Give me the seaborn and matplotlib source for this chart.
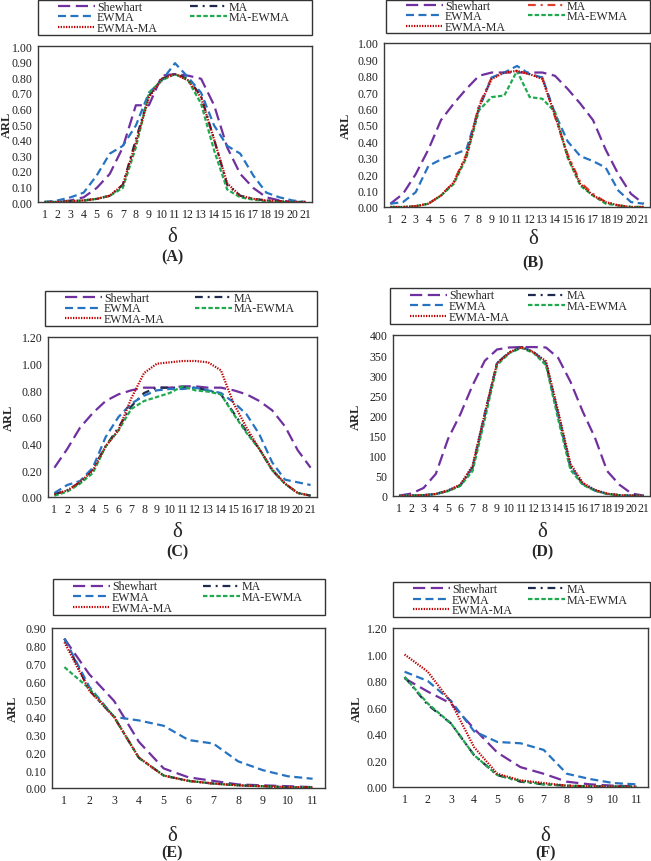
import numpy as np
import pandas as pd
import matplotlib
matplotlib.use("Agg")
import matplotlib.pyplot as plt
from matplotlib.patches import Rectangle
import seaborn as sns

sns.set_theme(style="white")
plt.rcParams["font.family"] = ["Liberation Serif", "DejaVu Serif"]

series_names = ["Shewhart", "MA", "EWMA", "MA-EWMA", "EWMA-MA"]
delta21 = list(range(1, 22))
delta11 = list(range(1, 12))

# ---- Panel A ----
A_shewhart = [0, 0, 0.01, 0.03, 0.09, 0.18, 0.35, 0.62, 0.62, 0.81, 0.82, 0.81, 0.79, 0.62, 0.35, 0.18, 0.09, 0.03, 0.01, 0, 0]
A_ma       = [0, 0, 0.005, 0.01, 0.02, 0.04, 0.11, 0.40, 0.68, 0.79, 0.82, 0.79, 0.68, 0.40, 0.11, 0.04, 0.02, 0.01, 0.005, 0, 0]
A_ewma     = [0, 0.01, 0.03, 0.06, 0.17, 0.31, 0.36, 0.49, 0.70, 0.78, 0.89, 0.80, 0.70, 0.49, 0.36, 0.31, 0.17, 0.06, 0.03, 0.01, 0]
A_maewma   = [0, 0, 0.005, 0.01, 0.02, 0.04, 0.09, 0.35, 0.70, 0.78, 0.82, 0.78, 0.63, 0.33, 0.08, 0.03, 0.015, 0.005, 0, 0, 0]
A_ewmama   = [0, 0, 0.005, 0.01, 0.02, 0.04, 0.11, 0.38, 0.67, 0.79, 0.82, 0.78, 0.67, 0.40, 0.12, 0.04, 0.02, 0.01, 0.005, 0, 0]

# ---- Panel B ----
B_shewhart = [0.02, 0.08, 0.20, 0.35, 0.53, 0.63, 0.72, 0.80, 0.82, 0.82, 0.82, 0.82, 0.82, 0.80, 0.72, 0.63, 0.53, 0.35, 0.20, 0.08, 0.02]
B_ma       = [0, 0, 0.005, 0.02, 0.07, 0.15, 0.32, 0.62, 0.79, 0.82, 0.83, 0.81, 0.79, 0.55, 0.32, 0.15, 0.08, 0.03, 0.01, 0, 0]
B_ewma     = [0.02, 0.03, 0.09, 0.25, 0.29, 0.32, 0.35, 0.60, 0.79, 0.82, 0.86, 0.81, 0.79, 0.57, 0.40, 0.31, 0.28, 0.24, 0.10, 0.03, 0.02]
B_maewma   = [0, 0, 0.005, 0.02, 0.07, 0.14, 0.30, 0.59, 0.67, 0.68, 0.83, 0.67, 0.66, 0.58, 0.30, 0.13, 0.07, 0.02, 0.01, 0, 0]
B_ewmama   = [0, 0, 0.005, 0.02, 0.07, 0.15, 0.31, 0.61, 0.78, 0.82, 0.83, 0.81, 0.78, 0.56, 0.31, 0.14, 0.07, 0.03, 0.01, 0, 0]

# ---- Panel C ----
C_shewhart = [0.22, 0.36, 0.52, 0.63, 0.72, 0.77, 0.80, 0.82, 0.82, 0.82, 0.83, 0.83, 0.82, 0.82, 0.80, 0.77, 0.72, 0.65, 0.53, 0.35, 0.22]
C_ma       = [0.02, 0.05, 0.11, 0.21, 0.38, 0.52, 0.68, 0.78, 0.82, 0.82, 0.82, 0.82, 0.80, 0.77, 0.63, 0.49, 0.36, 0.20, 0.10, 0.03, 0.01]
C_ewma     = [0.03, 0.09, 0.12, 0.22, 0.45, 0.60, 0.70, 0.76, 0.80, 0.81, 0.81, 0.82, 0.80, 0.78, 0.71, 0.62, 0.47, 0.26, 0.13, 0.11, 0.09]
C_maewma   = [0.01, 0.04, 0.10, 0.18, 0.38, 0.50, 0.66, 0.72, 0.75, 0.78, 0.83, 0.80, 0.79, 0.77, 0.62, 0.48, 0.36, 0.20, 0.10, 0.03, 0.01]
C_ewmama   = [0.02, 0.05, 0.11, 0.20, 0.38, 0.50, 0.74, 0.93, 1.00, 1.01, 1.02, 1.02, 1.01, 0.95, 0.70, 0.52, 0.36, 0.21, 0.10, 0.03, 0.01]

# ---- Panel D ----
D_shewhart = [1, 6, 20, 55, 142, 203, 275, 336, 364, 369, 370, 370, 369, 343, 284, 210, 145, 62, 28, 6, 1]
D_ma       = [0, 1, 2, 5, 13, 26, 70, 200, 330, 357, 370, 357, 330, 200, 72, 30, 14, 5, 2, 1, 0]
D_ewma     = [0, 1, 2, 5, 13, 27, 72, 205, 330, 355, 370, 358, 330, 205, 75, 30, 14, 5, 2, 1, 0]
D_maewma   = [0, 1, 2, 5, 12, 25, 62, 190, 325, 355, 368, 355, 325, 190, 65, 28, 13, 5, 2, 1, 0]
D_ewmama   = [0, 1, 2, 5, 14, 28, 75, 205, 330, 357, 370, 357, 335, 210, 80, 33, 15, 6, 2, 1, 0]

# ---- Panel E ----
E_shewhart = [0.84, 0.64, 0.49, 0.26, 0.11, 0.06, 0.04, 0.02, 0.015, 0.01, 0.005]
E_ma       = [0.84, 0.55, 0.40, 0.17, 0.07, 0.04, 0.025, 0.015, 0.01, 0.005, 0.003]
E_ewma     = [0.84, 0.57, 0.40, 0.38, 0.35, 0.27, 0.25, 0.15, 0.10, 0.066, 0.052]
E_maewma   = [0.68, 0.56, 0.40, 0.17, 0.07, 0.04, 0.025, 0.015, 0.01, 0.005, 0.003]
E_ewmama   = [0.82, 0.55, 0.40, 0.17, 0.07, 0.04, 0.025, 0.015, 0.01, 0.005, 0.003]

# ---- Panel F ----
F_shewhart = [0.82, 0.72, 0.63, 0.44, 0.26, 0.15, 0.10, 0.04, 0.02, 0.01, 0.005]
F_ma       = [0.83, 0.62, 0.48, 0.24, 0.09, 0.04, 0.02, 0.01, 0.005, 0.003, 0.002]
F_ewma     = [0.87, 0.80, 0.65, 0.42, 0.34, 0.33, 0.28, 0.10, 0.06, 0.03, 0.02]
F_maewma   = [0.83, 0.63, 0.48, 0.24, 0.09, 0.045, 0.02, 0.01, 0.005, 0.003, 0.002]
F_ewmama   = [1.00, 0.87, 0.64, 0.30, 0.10, 0.05, 0.03, 0.01, 0.005, 0.003, 0.002]

panel_labels = ["(A)", "(B)", "(C)", "(D)", "(E)", "(F)"]

panels = [
    (delta21, [A_shewhart, A_ma, A_ewma, A_maewma, A_ewmama]),
    (delta21, [B_shewhart, B_ma, B_ewma, B_maewma, B_ewmama]),
    (delta21, [C_shewhart, C_ma, C_ewma, C_maewma, C_ewmama]),
    (delta21, [D_shewhart, D_ma, D_ewma, D_maewma, D_ewmama]),
    (delta11, [E_shewhart, E_ma, E_ewma, E_maewma, E_ewmama]),
    (delta11, [F_shewhart, F_ma, F_ewma, F_maewma, F_ewmama]),
]

# styling
colors = {"Shewhart": "#7030A0", "MA": "#1F2A4F", "EWMA": "#2673C2",
          "MA-EWMA": "#1FAA4F", "EWMA-MA": "#C00000"}
ma_color_B = "#E0402D"
styles = {"Shewhart": (0, (5.5, 2.5)), "MA": (0, (3.5, 2.2, 0.9, 2.2)),
          "EWMA": (0, (3.6, 2.0)), "MA-EWMA": (0, (2.0, 1.0)),
          "EWMA-MA": (0, (0.6, 0.6))}

W, H = 651, 862
fig = plt.figure(figsize=(W / 100, H / 100), dpi=100)

def fx(px):
    return px / W

def fy(py):
    return 1 - py / H

# (axes l, r, t, b), legend box (l, r, t, b), delta pos, label pos, y-axis, ylabel x
layout = [
    ((38, 312, 47, 203), (38, 312, 0.5, 36), (172, 237), (172, 257), (0, 1.0, 0.1, "{:.2f}"), -0.09),
    ((384, 650, 44, 208), (386, 650, 0.5, 34), (533, 240), (533, 263), (0, 1.0, 0.1, "{:.2f}"), -0.12),
    ((48, 317, 338, 498), (45, 317, 292, 327), (177, 533), (177, 552), (0, 1.2, 0.2, "{:.2f}"), -0.125),
    ((393, 650, 336, 497), (390, 650, 289, 325), (542, 533), (542, 552), (0, 400, 50, "{:.0f}"), -0.12),
    ((52, 325, 629, 789), (53, 325, 580, 616), (172, 837), (172, 853), (0, 0.9, 0.1, "{:.2f}"), -0.12),
    ((393, 648, 629, 788), (393, 650, 583, 618), (545, 837), (545, 853), (0, 1.2, 0.2, "{:.2f}"), -0.12),
]

for i, ((x, ys), lay) in enumerate(zip(panels, layout)):
    (l, r, t, b), (ll, lr, lt, lb), dpos, lpos, (y0, y1, ystep, fmt), ylab_x = lay
    ax = fig.add_axes([fx(l), fy(b), (r - l) / W, (b - t) / H])
    for name, vals in zip(series_names, ys):
        c = colors[name]
        if i == 1 and name == "MA":
            c = ma_color_B
        df = pd.DataFrame({"delta": x, "ARL": vals})
        sns.lineplot(data=df, x="delta", y="ARL", ax=ax, color=c,
                     linestyle=styles[name], linewidth=1.6, label=name)
    ax.set_xlim(0.5, len(x) + 0.5)
    ax.set_ylim(y0, y1)
    ax.set_xticks(x)
    ax.set_xticklabels([str(v) for v in x], fontsize=8.6)
    yt = np.arange(y0, y1 + ystep / 2, ystep)
    ax.set_yticks(yt)
    ax.set_yticklabels([fmt.format(v) for v in yt], fontsize=8.6)
    ax.tick_params(axis="both", length=0, pad=4, colors="#222222")
    for sp in ax.spines.values():
        sp.set_color("#3a3a3a")
        sp.set_linewidth(1.0)
    ax.set_xlabel("")
    ax.set_ylabel("ARL", fontsize=9, fontweight="bold")
    ax.yaxis.set_label_coords(ylab_x, 0.5)
    ax.grid(False)
    handles, labels = ax.get_legend_handles_labels()
    hmap = dict(zip(labels, handles))
    order = ["Shewhart", "EWMA", "EWMA-MA", "MA", "MA-EWMA"]
    if ax.get_legend():
        ax.get_legend().remove()
    # legend frame drawn as a figure rectangle
    fig.patches.append(Rectangle((fx(ll), fy(lb)), (lr - ll) / W, (lb - lt) / H,
                                 transform=fig.transFigure, fill=False,
                                 edgecolor="#333333", linewidth=1.0))
    inset_l, inset_r = 20, 22
    leg = ax.legend([hmap[k] for k in order], order, ncol=2,
                    bbox_to_anchor=(fx(ll + inset_l), fy(lb),
                                    (lr - ll - inset_l - inset_r) / W, (lb - lt) / H),
                    bbox_transform=fig.transFigure, mode="expand",
                    loc="center", fontsize=8.6, frameon=False,
                    handlelength=3.1, handleheight=0.5, handletextpad=0.15,
                    labelspacing=-0.12, borderpad=0.0, borderaxespad=0,
                    columnspacing=1.0)
    fig.text(fx(dpos[0]), fy(dpos[1]), "δ", ha="center", va="center", fontsize=15)
    fig.text(fx(lpos[0]), fy(lpos[1]), panel_labels[i], ha="center", va="center",
             fontsize=11.5, fontweight="bold")

fig.savefig("out.png", dpi=100)
